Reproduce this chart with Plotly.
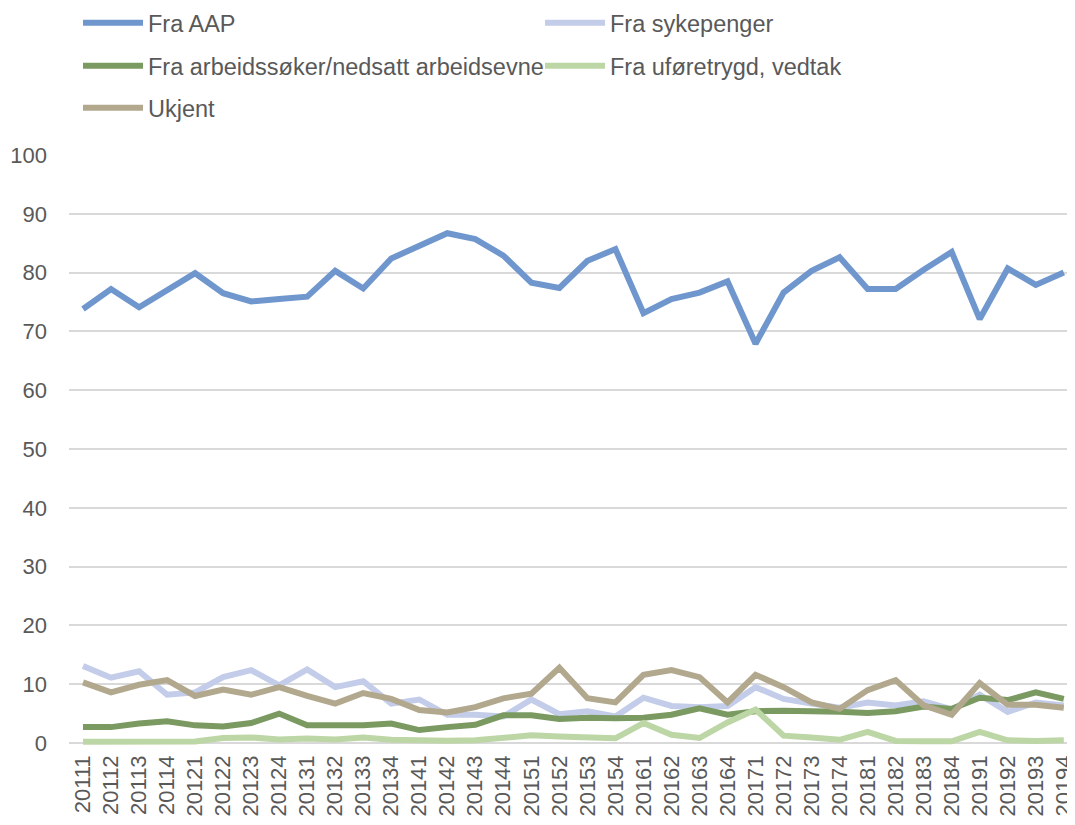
import plotly.graph_objects as go

quarters = ["20111","20112","20113","20114","20121","20122","20123","20124",
            "20131","20132","20133","20134","20141","20142","20143","20144",
            "20151","20152","20153","20154","20161","20162","20163","20164",
            "20171","20172","20173","20174","20181","20182","20183","20184",
            "20191","20192","20193","20194"]

fra_aap = [73.8, 77.2, 74.1, 77.0, 79.9, 76.5, 75.1, 75.5,
           75.9, 80.3, 77.3, 82.4, 84.6, 86.7, 85.7, 82.9,
           78.3, 77.4, 82.0, 84.0, 73.1, 75.5, 76.6, 78.5,
           67.9, 76.6, 80.3, 82.6, 77.2, 77.2, 80.5, 83.5,
           72.1, 80.7, 77.9, 80.0]

fra_sykepenger = [13.1, 11.1, 12.2, 8.2, 8.6, 11.2, 12.4, 9.8,
                  12.5, 9.5, 10.5, 6.7, 7.4, 4.8, 4.8, 4.5,
                  7.4, 4.9, 5.4, 4.5, 7.7, 6.3, 6.1, 6.3,
                  9.5, 7.5, 6.7, 6.0, 6.9, 6.4, 7.1, 5.7,
                  8.2, 5.3, 6.9, 6.4]

fra_arbeidssoker = [2.7, 2.7, 3.3, 3.7, 3.0, 2.8, 3.4, 5.0,
                    3.0, 3.0, 3.0, 3.3, 2.2, 2.7, 3.1, 4.7,
                    4.7, 4.1, 4.3, 4.2, 4.3, 4.8, 5.9, 4.8,
                    5.4, 5.5, 5.5, 5.3, 5.1, 5.4, 6.2, 5.8,
                    7.7, 7.3, 8.6, 7.5]

fra_uforetrygd = [0.2, 0.2, 0.35, 0.4, 0.25, 0.85, 0.95, 0.6,
                  0.75, 0.6, 0.95, 0.55, 0.4, 0.4, 0.45, 0.85,
                  1.3, 1.1, 0.95, 0.8, 3.4, 1.4, 0.85, 3.5,
                  5.7, 1.25, 0.95, 0.55, 1.9, 0.35, 0.3, 0.3,
                  1.9, 0.45, 0.35, 0.45]

ukjent = [10.3, 8.6, 9.9, 10.7, 8.0, 9.1, 8.2, 9.5,
          8.0, 6.7, 8.5, 7.5, 5.6, 5.2, 6.1, 7.6,
          8.4, 12.8, 7.6, 6.9, 11.6, 12.4, 11.2, 6.9,
          11.6, 9.5, 6.9, 5.8, 9.0, 10.7, 6.4, 4.8,
          10.2, 6.5, 6.5, 6.0]

series_names = ["Fra AAP", "Fra sykepenger", "Fra arbeidssøker/nedsatt arbeidsevne",
                "Fra uføretrygd, vedtak", "Ukjent"]
series_values = [fra_aap, fra_sykepenger, fra_arbeidssoker, fra_uforetrygd, ukjent]
series_colors = ["#6F97CD", "#C3CDEA", "#7B9A62", "#BDD6A6", "#B2A88E"]

FONT = "Liberation Sans, Arial, sans-serif"
OFF = 8                       # default page margin of the html body
W, H = 1075 - OFF, 825 - OFF  # figure size so the page fits the window
# plot area in page pixels: value 100 at P_TOP, value 0 at P_ZERO, bottom edge P_BOT
P_LEFT, P_TOP, P_ZERO, P_BOT = 69, 155, 743, 750
PX_PER_UNIT = (P_ZERO - P_TOP) / 100.0
Y_MIN = -(P_BOT - P_ZERO) / PX_PER_UNIT
L = P_LEFT - OFF
B = H - (P_BOT - OFF)
PAPER_H = H - B               # margin t=0

def px_x(p):
    return (p - OFF - L) / (W - L)

def px_y(p):
    return (PAPER_H - (p - OFF)) / PAPER_H

# legend slot positions (page pixels requested for legend box left / row centre)
legend_slots = [(78, 23), (540, 23), (78, 66), (540, 66), (78, 108)]
legend_keys = ["legend", "legend2", "legend3", "legend4", "legend5"]

fig = go.Figure()
for name, vals, color, key in zip(series_names, series_values, series_colors, legend_keys):
    fig.add_trace(go.Scatter(
        x=quarters, y=vals, mode="lines", name=name,
        line=dict(color=color, width=6),
        legend=key,
    ))

legend_layout = {}
for key, (sx, sy) in zip(legend_keys, legend_slots):
    legend_layout[key] = dict(
        x=px_x(sx), y=px_y(sy), xanchor="left", yanchor="middle",
        orientation="v", itemwidth=60,
        font=dict(family=FONT, size=23.5, color="#595959"),
        bgcolor="rgba(0,0,0,0)", borderwidth=0,
    )

fig.update_layout(
    width=W, height=H,
    margin=dict(l=L, r=0, t=0, b=B, autoexpand=False),
    paper_bgcolor="white", plot_bgcolor="white",
    font=dict(family=FONT, color="#595959"),
    showlegend=True,
    xaxis=dict(type="category", range=[-0.5, 35.4], tickangle=-90,
               showgrid=False, zeroline=False, showline=False, ticks="",
               automargin=False,
               tickfont=dict(family=FONT, size=22, color="#595959")),
    yaxis=dict(range=[Y_MIN, 100], dtick=10, tick0=0, showgrid=True,
               domain=[0, (P_BOT - P_TOP) / PAPER_H],
               gridcolor="#D9D9D9", gridwidth=1.5, zeroline=True,
               zerolinecolor="#D9D9D9", zerolinewidth=1.5, showline=False,
               ticks="", ticklabelstandoff=21, automargin=False,
               tickfont=dict(family=FONT, size=22, color="#595959")),
    **legend_layout,
)

fig.write_html("out.html")
